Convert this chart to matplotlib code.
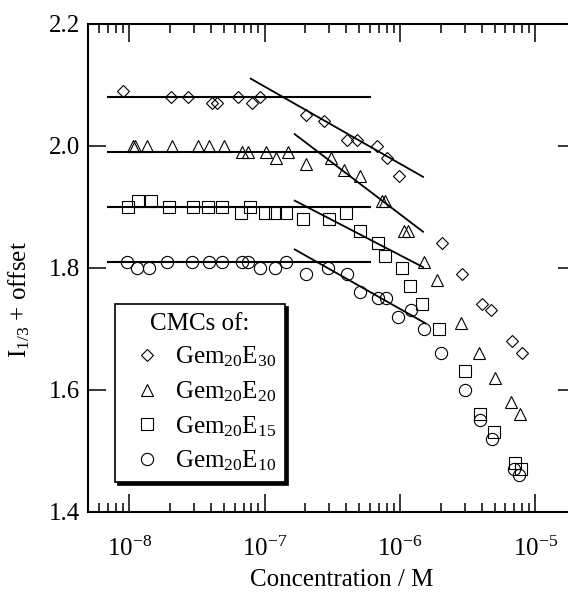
import numpy as np
import matplotlib
matplotlib.use("Agg")
import matplotlib.pyplot as plt

plt.rcParams['font.family'] = ['Liberation Serif', 'DejaVu Serif']
plt.rcParams['mathtext.fontset'] = 'custom'
plt.rcParams['mathtext.rm'] = 'Liberation Serif'
plt.rcParams['mathtext.it'] = 'Liberation Serif:italic'
plt.rcParams['axes.unicode_minus'] = False

# pyrene I1/3 ratio vs concentration (values offset per series)
conc_e30 = [8.95e-9, 2.04e-8, 2.72e-8, 4.08e-8, 4.45e-8, 6.35e-8, 8.05e-8, 9.33e-8,
            2.04e-7, 2.74e-7, 4.03e-7, 4.82e-7, 6.71e-7, 8.04e-7, 9.75e-7,
            2.06e-6, 2.85e-6, 4.06e-6, 4.66e-6, 6.68e-6, 7.96e-6]
i13_e30 = [2.09, 2.08, 2.08, 2.07, 2.07, 2.08, 2.07, 2.08,
           2.05, 2.04, 2.01, 2.01, 2.00, 1.98, 1.95,
           1.84, 1.79, 1.74, 1.73, 1.68, 1.66]

conc_e20 = [1.06e-8, 1.10e-8, 1.36e-8, 2.08e-8, 3.21e-8, 3.88e-8, 5.04e-8, 6.76e-8, 7.49e-8,
            1.02e-7, 1.21e-7, 1.49e-7, 2.04e-7, 3.08e-7, 3.85e-7, 5.10e-7, 7.38e-7, 7.73e-7,
            1.07e-6, 1.15e-6, 1.50e-6, 1.89e-6, 2.81e-6, 3.84e-6, 5.07e-6, 6.58e-6, 7.75e-6]
i13_e20 = [2.00, 2.00, 2.00, 2.00, 2.00, 2.00, 2.00, 1.99, 1.99,
           1.99, 1.98, 1.99, 1.97, 1.98, 1.96, 1.95, 1.91, 1.91,
           1.86, 1.86, 1.81, 1.78, 1.71, 1.66, 1.62, 1.58, 1.56]

conc_e15 = [9.75e-9, 1.17e-8, 1.45e-8, 1.97e-8, 2.94e-8, 3.80e-8, 4.87e-8, 6.69e-8, 7.75e-8,
            1.00e-7, 1.19e-7, 1.44e-7, 1.93e-7, 3.00e-7, 3.98e-7, 5.05e-7, 6.89e-7, 7.73e-7,
            1.03e-6, 1.19e-6, 1.46e-6, 1.95e-6, 3.01e-6, 3.88e-6, 4.95e-6, 7.11e-6, 7.88e-6]
i13_e15 = [1.90, 1.91, 1.91, 1.90, 1.90, 1.90, 1.90, 1.89, 1.90,
           1.89, 1.89, 1.89, 1.88, 1.88, 1.89, 1.86, 1.84, 1.82,
           1.80, 1.77, 1.74, 1.70, 1.63, 1.56, 1.53, 1.48, 1.47]

conc_e10 = [9.6e-9, 1.15e-8, 1.41e-8, 1.89e-8, 2.92e-8, 3.88e-8, 4.87e-8, 6.84e-8, 7.5e-8,
            9.23e-8, 1.19e-7, 1.45e-7, 2.02e-7, 2.92e-7, 4.03e-7, 5.05e-7, 6.88e-7, 7.85e-7,
            9.68e-7, 1.20e-6, 1.50e-6, 2.00e-6, 3.02e-6, 3.93e-6, 4.82e-6, 6.92e-6, 7.53e-6]
i13_e10 = [1.81, 1.80, 1.80, 1.81, 1.81, 1.81, 1.81, 1.81, 1.81,
           1.80, 1.80, 1.81, 1.79, 1.80, 1.79, 1.76, 1.75, 1.75,
           1.72, 1.73, 1.70, 1.66, 1.60, 1.55, 1.52, 1.47, 1.46]

# fitted lines: flat pre-micellar level and the falling branch
plateau_x = [7e-9, 6e-7]
plateau_y = [2.08, 1.99, 1.90, 1.81]
slope_x = [[7.9e-8, 1.48e-6], [1.67e-7, 1.48e-6], [1.67e-7, 1.48e-6], [1.67e-7, 1.54e-6]]
slope_y = [[2.110, 1.949], [2.019, 1.859], [1.910, 1.801], [1.830, 1.709]]

labels = ['Gem$_{20}$E$_{30}$', 'Gem$_{20}$E$_{20}$', 'Gem$_{20}$E$_{15}$', 'Gem$_{20}$E$_{10}$']
markers = ['D', '^', 's', 'o']
msizes = [6.4, 8.8, 8.4, 8.8]

fig = plt.figure(figsize=(5.68, 5.92), dpi=100)
ax = fig.add_axes([0.1556, 0.1356, 0.8588, 0.8243])

series = [(conc_e30, i13_e30), (conc_e20, i13_e20), (conc_e15, i13_e15), (conc_e10, i13_e10)]
for (cx, cy), mk, ms, lab in zip(series, markers, msizes, labels):
    ax.plot(cx, cy, linestyle='none', marker=mk, markersize=ms, markerfacecolor='none',
            markeredgecolor='black', markeredgewidth=0.8, label=lab)

for py in plateau_y:
    ax.plot(plateau_x, [py, py], color='black', lw=1.5)
for sx, sy in zip(slope_x, slope_y):
    ax.plot(sx, sy, color='black', lw=1.3)

ax.set_xscale('log')
ax.set_xlim(5e-9, 2e-5)
ax.set_ylim(1.4, 2.2)
ax.set_yticks([1.4, 1.6, 1.8, 2.0, 2.2])
ax.set_yticklabels(['1.4', '1.6', '1.8', '2.0', '2.2'])
ax.set_xticks([1e-8, 1e-7, 1e-6, 1e-5])
ax.set_xticklabels(['$10^{-8}$', '$10^{-7}$', '$10^{-6}$', '$10^{-5}$'])
ax.xaxis.set_minor_locator(matplotlib.ticker.LogLocator(base=10, subs=np.arange(2, 10), numticks=20))
ax.xaxis.set_minor_formatter(matplotlib.ticker.NullFormatter())

ax.tick_params(which='both', direction='in', top=True, right=True, labelsize=18, width=1.1)
ax.tick_params(which='major', length=13)
ax.tick_params(which='minor', length=6.5)
ax.tick_params(axis='y', pad=6)
ax.tick_params(axis='x', pad=18)
for sp in ax.spines.values():
    sp.set_linewidth(1.5)

ax.set_xlabel('Concentration / M', fontsize=18)
ax.xaxis.set_label_coords(0.52, -0.118)
ax.set_ylabel('I$_{1/3}$ + offset', fontsize=18)
ax.yaxis.set_label_coords(-0.115, 0.434)

leg = ax.legend(title='CMCs of:', loc='lower left', bbox_to_anchor=(0.0545, 0.061),
                borderaxespad=0, fontsize=18, title_fontsize=18, frameon=True, fancybox=False,
                shadow={'color': 'black', 'alpha': 1.0}, handletextpad=0.2, labelspacing=0.4,
                borderpad=0.35, handlelength=1.85)
leg.get_frame().set_edgecolor('black')
leg.get_frame().set_linewidth(1.2)

fig.savefig('out.png', dpi=100)
